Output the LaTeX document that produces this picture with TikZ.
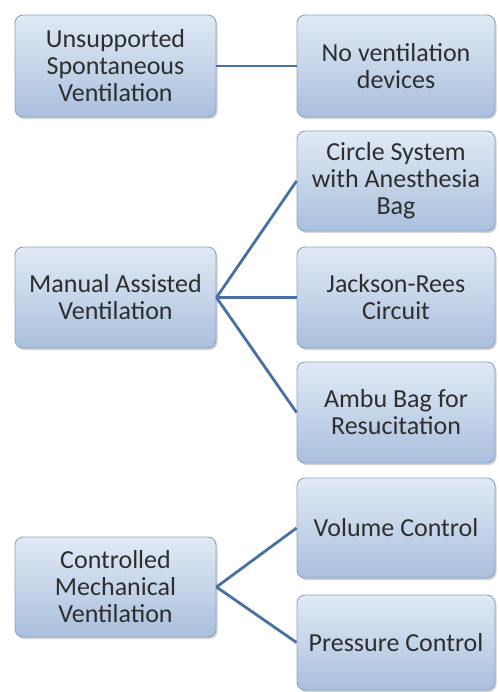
\documentclass[tikz,border=0pt]{standalone}
\usepackage{fontspec}
\setmainfont{Carlito}
\usetikzlibrary{shadows}
\definecolor{boxtop}{HTML}{E1EAF5}
\definecolor{boxbot}{HTML}{A9BFDD}
\definecolor{boxline}{HTML}{8CA4C6}
\definecolor{conn}{HTML}{4A6FA5}
\definecolor{txt}{HTML}{2E2E2E}
\tikzset{
  vbox/.style={draw=boxline, line width=0.9pt, rounded corners=8pt,
    top color=boxtop, bottom color=boxbot, text=txt,
    drop shadow={shadow xshift=1.5pt, shadow yshift=-2pt, opacity=0.35},
    align=center, inner sep=2pt,
    font=\fontsize{26}{27}\selectfont},
  lbox/.style={vbox, minimum width=201pt},
  rbox/.style={vbox, minimum width=198pt},
  link/.style={draw=conn, line width=2.8pt}
}
\begin{document}
\begin{tikzpicture}[x=1pt,y=-1pt]
\useasboundingbox (0,0) rectangle (498,692);
\node[lbox, minimum height=102pt] (U) at (115.5,66) {Unsupported\\Spontaneous\\Ventilation};
\node[rbox, minimum height=102pt] (N) at (396,66) {No ventilation\\devices};
\node[rbox, minimum height=100pt] (C) at (396,181) {Circle System\\with Anesthesia\\Bag};
\node[lbox, minimum height=101pt] (M) at (115.5,297.5) {Manual Assisted\\Ventilation};
\node[rbox, minimum height=101pt] (J) at (396,297.5) {Jackson-Rees\\Circuit};
\node[rbox, minimum height=101pt] (A) at (396,412.5) {Ambu Bag for\\Resucitation};
\node[lbox, minimum height=100pt] (K) at (115.5,587) {Controlled\\Mechanical\\Ventilation};
\node[rbox, minimum height=100pt] (V) at (396,528) {Volume Control};
\node[rbox, minimum height=95pt] (P) at (396,642.5) {Pressure Control};
\draw[link] (U.east) -- (N.west);
\draw[link] (M.east) -- (C.west);
\draw[link] (M.east) -- (J.west);
\draw[link] (M.east) -- (A.west);
\draw[link] (K.east) -- (V.west);
\draw[link] (K.east) -- (P.west);
\end{tikzpicture}
\end{document}
